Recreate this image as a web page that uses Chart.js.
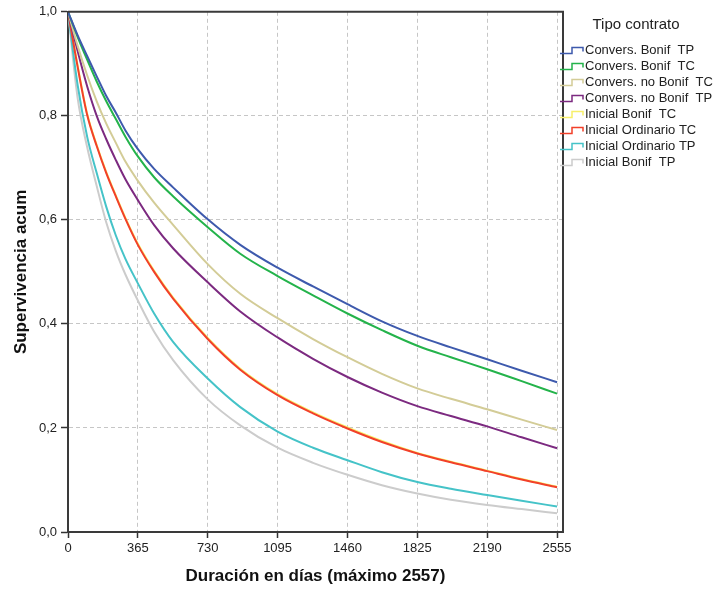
<!DOCTYPE html>
<html>
<head>
<meta charset="utf-8">
<script src="https://cdn.jsdelivr.net/npm/chart.js@4.4.0/dist/chart.umd.min.js"></script>
<style>
  body { margin: 0; background: #fff; }
  #wrap { width: 714px; height: 590px; }
</style>
</head>
<body>
<div id="wrap"><canvas id="chart" width="714" height="590"></canvas></div>
<script>
const days = [0, 50, 100, 150, 200, 250, 300, 365, 450, 550, 730, 900, 1095, 1280, 1460, 1640, 1825, 2000, 2190, 2370, 2555];

// Cumulative survival per contract type
const conversBonifTP   = [1, 0.955, 0.915, 0.876, 0.838, 0.806, 0.772, 0.736, 0.698, 0.662, 0.601, 0.552, 0.508, 0.472, 0.438, 0.405, 0.377, 0.355, 0.332, 0.310, 0.288];
const conversBonifTC   = [1, 0.952, 0.908, 0.866, 0.828, 0.794, 0.760, 0.722, 0.682, 0.645, 0.586, 0.535, 0.492, 0.455, 0.420, 0.388, 0.358, 0.336, 0.313, 0.290, 0.266];
const conversNoBonifTC = [1, 0.935, 0.878, 0.828, 0.785, 0.748, 0.712, 0.675, 0.633, 0.590, 0.515, 0.458, 0.411, 0.371, 0.336, 0.304, 0.276, 0.256, 0.236, 0.216, 0.196];
const conversNoBonifTP = [1, 0.925, 0.857, 0.800, 0.755, 0.715, 0.678, 0.638, 0.590, 0.545, 0.480, 0.424, 0.374, 0.333, 0.298, 0.268, 0.242, 0.223, 0.203, 0.182, 0.161];
const inicialBonifTC   = [1, 0.897, 0.804, 0.744, 0.692, 0.647, 0.604, 0.554, 0.502, 0.450, 0.373, 0.314, 0.265, 0.230, 0.201, 0.175, 0.152, 0.135, 0.118, 0.102, 0.087];
const inicialOrdTC     = [1, 0.895, 0.802, 0.742, 0.690, 0.645, 0.602, 0.552, 0.500, 0.448, 0.371, 0.312, 0.263, 0.228, 0.199, 0.173, 0.151, 0.134, 0.117, 0.101, 0.086];
const inicialOrdTP     = [1, 0.860, 0.760, 0.690, 0.625, 0.570, 0.525, 0.478, 0.420, 0.365, 0.295, 0.240, 0.193, 0.162, 0.138, 0.115, 0.096, 0.083, 0.071, 0.060, 0.049];
const inicialBonifTP   = [1, 0.835, 0.740, 0.665, 0.595, 0.540, 0.495, 0.445, 0.385, 0.330, 0.255, 0.205, 0.162, 0.133, 0.110, 0.090, 0.074, 0.062, 0.052, 0.044, 0.036];

const contractTypes = [
  'Convers. Bonif  TP', 'Convers. Bonif  TC', 'Convers. no Bonif  TC', 'Convers. no Bonif  TP',
  'Inicial Bonif  TC', 'Inicial Ordinario TC', 'Inicial Ordinario TP', 'Inicial Bonif  TP'
];
const seriesValues = [
  conversBonifTP, conversBonifTC, conversNoBonifTC, conversNoBonifTP,
  inicialBonifTC, inicialOrdTC, inicialOrdTP, inicialBonifTP
];
const lineColors = ['#3e5aad', '#24b34b', '#d3cc97', '#7c2a80', '#f7ef6a', '#f2402a', '#45c3c8', '#cccccc'];

const xTicks = [0, 365, 730, 1095, 1460, 1825, 2190, 2555];
const yTicks = [0, 0.2, 0.4, 0.6, 0.8, 1.0];

Chart.defaults.font.family = "'Liberation Sans', Arial, sans-serif";

// Top and right frame lines
const framePlugin = {
  id: 'frame',
  afterDraw(chart) {
    const { ctx, chartArea: a } = chart;
    ctx.save();
    ctx.strokeStyle = '#3a3a3a';
    ctx.lineWidth = 2;
    ctx.beginPath();
    ctx.moveTo(a.left, a.top);
    ctx.lineTo(a.right, a.top);
    ctx.lineTo(a.right, a.bottom);
    ctx.stroke();
    ctx.restore();
  }
};

// SPSS-like legend with step glyphs
const legendPlugin = {
  id: 'contractLegend',
  afterDraw(chart) {
    const ctx = chart.ctx;
    ctx.save();
    ctx.fillStyle = '#222';
    ctx.font = "15px 'Liberation Sans', Arial, sans-serif";
    ctx.textAlign = 'center';
    ctx.textBaseline = 'middle';
    ctx.fillText('Tipo contrato', 636, 25);

    ctx.font = "13px 'Liberation Sans', Arial, sans-serif";
    ctx.textAlign = 'left';
    contractTypes.forEach((name, i) => {
      const y = 50.5 + i * 16;
      ctx.strokeStyle = lineColors[i];
      ctx.lineWidth = 1.5;
      ctx.beginPath();
      ctx.moveTo(560, y + 3);
      ctx.lineTo(572, y + 3);
      ctx.lineTo(572, y - 3);
      ctx.lineTo(583, y - 3);
      ctx.lineTo(583, y + 1);
      ctx.stroke();
      ctx.fillStyle = '#222';
      ctx.fillText(name, 585, y);
    });
    ctx.restore();
  }
};

const datasets = contractTypes.map((name, i) => ({
  label: name,
  data: days.map((d, j) => ({ x: d, y: seriesValues[i][j] })),
  borderColor: lineColors[i],
  borderWidth: 2,
  pointRadius: 0,
  fill: false,
  cubicInterpolationMode: 'monotone',
  // keep the yellow curve under the red one
  order: i === 4 ? 1 : 0
}));

new Chart(document.getElementById('chart'), {
  type: 'line',
  data: { datasets },
  plugins: [framePlugin, legendPlugin],
  options: {
    responsive: false,
    animation: false,
    events: [],
    layout: { padding: { top: 10, right: 151, left: 0, bottom: 0 } },
    plugins: {
      legend: { display: false },
      tooltip: { enabled: false }
    },
    scales: {
      x: {
        type: 'linear',
        min: 0,
        max: 2586,
        afterBuildTicks: s => { s.ticks = xTicks.map(v => ({ value: v })); },
        afterFit: s => { s.height = 58; },
        grid: { color: '#c6c6c6', lineWidth: 1, tickLength: 6, tickColor: '#333', tickWidth: 1.5, tickBorderDash: [] },
        border: { dash: [4, 3], color: '#3a3a3a', width: 2 },
        ticks: { color: '#222', font: { size: 13 }, padding: 3, maxRotation: 0, autoSkip: false, callback: v => String(v) },
        title: {
          display: true,
          text: 'Duración en días (máximo 2557)',
          color: '#111',
          font: { size: 17, weight: 'bold' },
          padding: { top: 0, bottom: 3 }
        }
      },
      y: {
        min: 0,
        max: 1,
        afterBuildTicks: s => { s.ticks = yTicks.map(v => ({ value: v })); },
        afterFit: s => { s.width = 68; },
        grid: { color: '#c6c6c6', lineWidth: 1, tickLength: 7, tickColor: '#333', tickWidth: 1.5, tickBorderDash: [] },
        border: { dash: [4, 3], color: '#3a3a3a', width: 2 },
        ticks: { color: '#222', font: { size: 13 }, padding: 4, autoSkip: false, callback: v => v.toFixed(1).replace('.', ',') },
        title: {
          display: true,
          text: 'Supervivencia acum',
          color: '#111',
          font: { size: 17, weight: 'bold' },
          padding: { top: 11, bottom: 0 }
        }
      }
    }
  }
});
</script>
</body>
</html>
